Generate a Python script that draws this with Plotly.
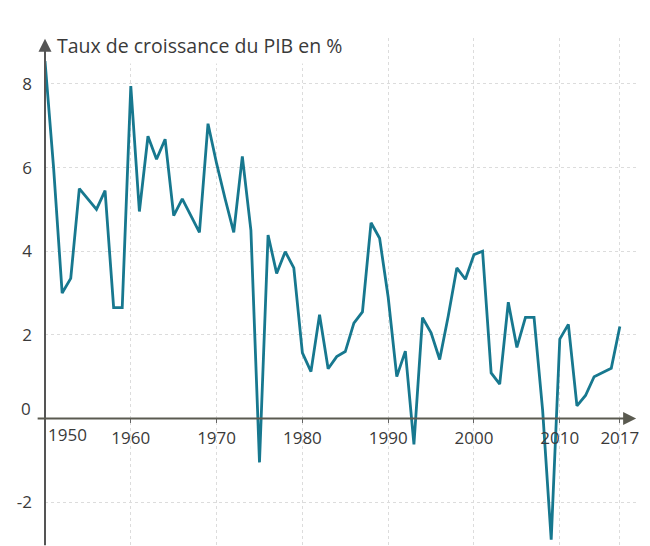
import plotly.graph_objects as go

years = list(range(1950, 2018))
growth = [
    8.55, 6.0, 3.0, 3.35, 5.5, 5.25, 5.0, 5.45, 2.65, 2.65,      # 1950-1959
    7.95, 4.95, 6.75, 6.2, 6.68, 4.85, 5.25, 4.85, 4.45, 7.05,   # 1960-1969
    6.1, 5.25, 4.45, 6.27, 4.5, -1.05, 4.39, 3.47, 3.99, 3.6,    # 1970-1979
    1.57, 1.12, 2.48, 1.19, 1.48, 1.6, 2.28, 2.55, 4.68, 4.31,   # 1980-1989
    2.9, 1.0, 1.61, -0.62, 2.41, 2.05, 1.41, 2.45, 3.6, 3.33,    # 1990-1999
    3.92, 4.0, 1.09, 0.82, 2.78, 1.7, 2.42, 2.42, 0.2, -2.9,     # 2000-2009
    1.9, 2.25, 0.3, 0.55, 1.0, 1.1, 1.2, 2.2,                    # 2010-2017
]
x_ticks = [1960, 1970, 1980, 1990, 2000, 2010, 2017]
x_tick_text = [str(v) for v in x_ticks]
first_year_label = "1950"
y_ticks = [-2, 2, 4, 6, 8]
y_tick_text = ["-2", "2", "4", "6", "8"]
zero_label = "0"
title_text = "Taux de croissance du PIB en %"

Y_MIN, Y_MAX = -3.05, 9.1
X_MIN, X_MAX = 1950, 2019
zero_pos = (0 - Y_MIN) / (Y_MAX - Y_MIN)

FONT = "Open Sans"
AXIS_COLOR = "#555555"
TEXT_COLOR = "#3a3a3a"
TICK_SIZE = 17

fig = go.Figure()
fig.add_trace(go.Scatter(
    x=years, y=growth, mode="lines",
    line=dict(color="#17788f", width=2.8),
    hoverinfo="x+y", showlegend=False,
))

# the page body has an 8px default margin, so the figure is offset by 8px
fig.update_layout(
    width=650, height=546,
    margin=dict(l=37, r=21, t=30, b=8),
    paper_bgcolor="white", plot_bgcolor="white",
    font=dict(family=FONT, size=TICK_SIZE, color=TEXT_COLOR),
    xaxis=dict(
        range=[X_MIN, X_MAX], tickvals=x_ticks, ticktext=x_tick_text,
        anchor="free", position=zero_pos, automargin=False,
        showline=False, zeroline=False,
        showgrid=True, gridcolor="#dcdcdc", griddash="dot", gridwidth=1,
        ticks="outside", ticklen=4, tickwidth=1, tickcolor="#666666",
        tickfont=dict(family=FONT, size=TICK_SIZE, color=TEXT_COLOR),
    ),
    yaxis=dict(
        range=[Y_MIN, Y_MAX], tickvals=y_ticks, ticktext=y_tick_text,
        automargin=False,
        showline=False, zeroline=False,
        showgrid=True, gridcolor="#dcdcdc", griddash="dot", gridwidth=1,
        ticks="", ticklabelstandoff=12,
        tickfont=dict(family=FONT, size=TICK_SIZE, color=TEXT_COLOR),
    ),
)

# axes with arrow heads
fig.add_annotation(
    x=X_MIN, y=Y_MAX - 0.02, xref="x", yref="y",
    ax=0, ay=508, axref="pixel", ayref="pixel",
    showarrow=True, arrowhead=2, arrowsize=1.3, arrowwidth=2,
    arrowcolor=AXIS_COLOR, text="", standoff=0,
)
fig.add_annotation(
    x=2018.9, y=0, xref="x", yref="y",
    ax=-600, ay=0, axref="pixel", ayref="pixel",
    showarrow=True, arrowhead=2, arrowsize=1.3, arrowwidth=2,
    arrowcolor="#5a5a50", text="", standoff=0,
)
# first year label, shifted right of the vertical axis
fig.add_annotation(
    x=1952.6, y=0, xref="x", yref="y", text=first_year_label,
    showarrow=False, yanchor="top", yshift=-3,
    font=dict(family=FONT, size=TICK_SIZE, color=TEXT_COLOR),
)
# zero label, sitting slightly above the horizontal axis
fig.add_annotation(
    x=0, y=0, xref="paper", yref="y", text=zero_label,
    showarrow=False, xanchor="right", yanchor="middle", xshift=-12, yshift=10,
    font=dict(family=FONT, size=TICK_SIZE, color=TEXT_COLOR),
)
# axis title next to the arrow
fig.add_annotation(
    x=0.012, y=1, xref="paper", yref="paper", text=title_text,
    showarrow=False, xanchor="left", yanchor="middle", yshift=-7,
    bgcolor="white", borderpad=4,
    font=dict(family=FONT, size=19.5, color=TEXT_COLOR),
)

fig.write_html("out.html")
